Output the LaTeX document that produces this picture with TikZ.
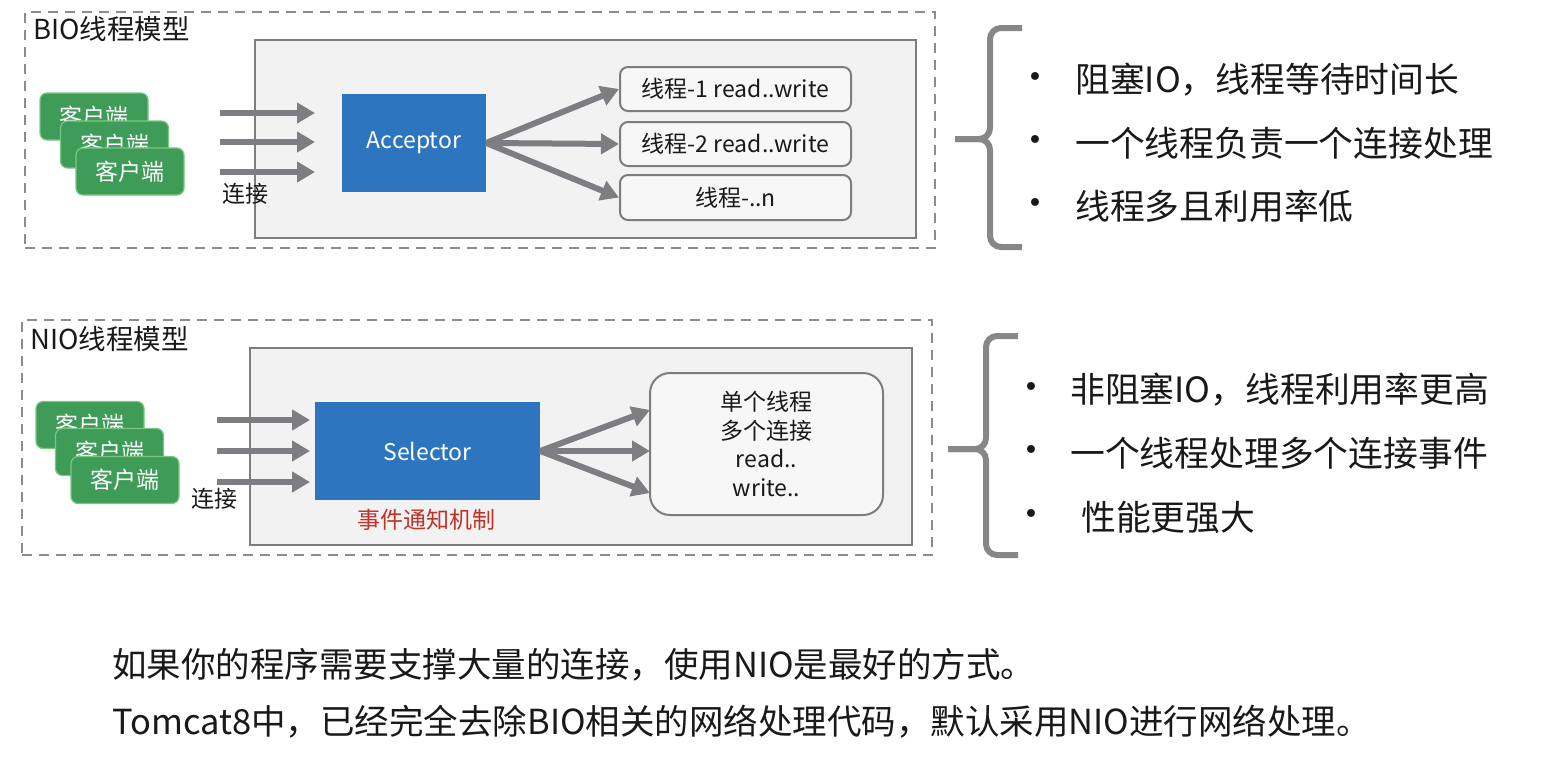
\documentclass[tikz,border=0pt]{standalone}
\usepackage{fontspec}
\setmainfont{Noto Sans CJK SC}
\newfontfamily\dotfont{DejaVu Sans}
\usetikzlibrary{arrows.meta}
\definecolor{dashgray}{RGB}{140,140,140}
\definecolor{boxgray}{RGB}{125,125,125}
\definecolor{innerfill}{RGB}{242,242,242}
\definecolor{cgreen}{RGB}{62,155,88}
\definecolor{cgreenlight}{RGB}{120,200,130}
\definecolor{cblue}{RGB}{46,117,192}
\definecolor{arrgray}{RGB}{125,125,130}
\definecolor{bracegray}{RGB}{135,135,135}
\definecolor{textblack}{RGB}{25,25,25}
\definecolor{evred}{RGB}{190,50,40}
\newcommand\fsA{\fontsize{23pt}{28.5pt}\selectfont}
\newcommand\fsT{\fontsize{27.5pt}{32pt}\selectfont}
\newcommand\fsC{\fontsize{34.8pt}{40pt}\selectfont}
\newcommand\fsB{\dotfont\fontsize{27pt}{30pt}\selectfont}
\newcommand\fsD{\fontsize{34.5pt}{40pt}\selectfont}
\begin{document}
\begin{tikzpicture}[x=1pt,y=-1pt,
  dashbox/.style={draw=dashgray, line width=2pt, dash pattern=on 10pt off 7pt, inner sep=0pt},
  innerbox/.style={draw=boxgray, fill=innerfill, line width=2pt, inner sep=0pt},
  client/.style={fill=cgreen, draw=cgreenlight, line width=1.2pt, rounded corners=7pt, minimum width=108pt, minimum height=47pt, text=white, font=\fsA, inner sep=0pt},
  bluebox/.style={fill=cblue, text=white, font=\fsA, inner sep=0pt},
  threadbox/.style={draw=boxgray, fill=white!97!black, line width=2pt, rounded corners=8pt, minimum width=231pt, minimum height=44pt, font=\fsA, text=textblack, inner sep=0pt},
  fatarrow/.style={draw=arrgray, line width=6pt, -{Triangle[length=18pt,width=20pt]}},
  bracepath/.style={draw=bracegray, line width=6pt, rounded corners=11pt},
  titletext/.style={anchor=west, font=\fsT, text=textblack, inner sep=0pt},
  labeltext/.style={font=\fsA, text=textblack, inner sep=0pt},
  bullettext/.style={anchor=west, font=\fsC, text=textblack, inner sep=0pt},
  bottomtext/.style={anchor=west, font=\fsD, text=textblack, inner sep=0pt},
  dotnode/.style={font=\fsB, text=textblack, inner sep=0pt},
]
\useasboundingbox (0,0) rectangle (1546,772);
\fill[white] (0,0) rectangle (1546,772);

% ---------------- BIO ----------------
\node[dashbox, minimum width=910pt, minimum height=236pt] (bio) at (480,130) {};
\node[titletext] (biot) at (33,29) {BIO线程模型};
\node[innerbox, minimum width=661pt, minimum height=198pt] (bioin) at (585.5,139) {};

\node[client] (bc1) at (94,116.5) {客户端};
\node[client] (bc2) at (114.5,144.5) {客户端};
\node[client] (bc3) at (130,171.5) {客户端};

\coordinate (ba1s) at (220,113); \coordinate (ba1e) at (315,113);
\coordinate (ba2s) at (220,142); \coordinate (ba2e) at (315,142);
\coordinate (ba3s) at (220,172); \coordinate (ba3e) at (315,172);
\draw[fatarrow] (ba1s) -- (ba1e);
\draw[fatarrow] (ba2s) -- (ba2e);
\draw[fatarrow] (ba3s) -- (ba3e);
\node[labeltext] (bconn) at (245,194) {连接};

\node[bluebox, minimum width=144pt, minimum height=98pt] (acc) at (414,143) {Acceptor};

\node[threadbox] (t1) at (735.5,89) {线程-1 read..write};
\node[threadbox] (t2) at (735.5,144) {线程-2 read..write};
\node[threadbox, minimum height=45pt] (t3) at (735.5,197.5) {线程-..n};

\draw[fatarrow] (acc.east) -- (t1.west);
\draw[fatarrow] (acc.east) -- (t2.west);
\draw[fatarrow] (acc.east) -- (t3.west);

% ---------------- NIO ----------------
\node[dashbox, minimum width=910pt, minimum height=235pt] (nio) at (477,437.5) {};
\node[titletext] (niot) at (30,339) {NIO线程模型};
\node[innerbox, minimum width=662pt, minimum height=197pt] (nioin) at (581,446.5) {};

\node[client] (nc1) at (90,425) {客户端};
\node[client] (nc2) at (109.5,452) {客户端};
\node[client] (nc3) at (125,480) {客户端};

\coordinate (na1s) at (217,420); \coordinate (na1e) at (310,420);
\coordinate (na2s) at (217,451); \coordinate (na2e) at (310,451);
\coordinate (na3s) at (217,482); \coordinate (na3e) at (310,482);
\draw[fatarrow] (na1s) -- (na1e);
\draw[fatarrow] (na2s) -- (na2e);
\draw[fatarrow] (na3s) -- (na3e);
\node[labeltext] (nconn) at (214,499) {连接};

\node[bluebox, minimum width=225pt, minimum height=98pt] (sel) at (427.5,451) {Selector};
\node[labeltext, text=evred, font=\fontsize{23pt}{27pt}\selectfont] (ev) at (426,520) {事件通知机制};

\node[draw=boxgray, fill=white!97!black, line width=2pt, rounded corners=20pt, minimum width=233pt, minimum height=142pt, inner sep=0pt, font=\fsA, text=textblack, align=center] (rb) at (766.5,444) {单个线程\\多个连接\\read..\\write..};

\coordinate (rb1) at (650,410);
\coordinate (rb2) at (650,451);
\coordinate (rb3) at (650,493);
\draw[fatarrow] (sel.east) -- (rb1);
\draw[fatarrow] (sel.east) -- (rb2);
\draw[fatarrow] (sel.east) -- (rb3);

% ---------------- braces ----------------
\coordinate (bbt) at (1022,28);
\coordinate (bbm) at (955,139);
\coordinate (bbb) at (1022,247);
\draw[bracepath] (bbt) -- (990,28) -- (990,139) -- (bbm);
\draw[bracepath] (bbm) -- (990,139) -- (990,247) -- (bbb);

\coordinate (nbt) at (1018,336);
\coordinate (nbm) at (948,449);
\coordinate (nbb) at (1018,555);
\draw[bracepath] (nbt) -- (986,336) -- (986,449) -- (nbm);
\draw[bracepath] (nbm) -- (986,449) -- (986,555) -- (nbb);

% ---------------- bullet lists ----------------
\node[dotnode] (d1) at (1035,80) {•};
\node[bullettext] (l1) at (1075,80) {阻塞IO，线程等待时间长};
\node[dotnode] (d2) at (1035,143) {•};
\node[bullettext] (l2) at (1075,143) {一个线程负责一个连接处理};
\node[dotnode] (d3) at (1035,206) {•};
\node[bullettext] (l3) at (1075,206) {线程多且利用率低};

\node[dotnode] (d4) at (1031,390) {•};
\node[bullettext] (l4) at (1070,390) {非阻塞IO，线程利用率更高};
\node[dotnode] (d5) at (1031,453) {•};
\node[bullettext] (l5) at (1070,453) {一个线程处理多个连接事件};
\node[dotnode] (d6) at (1031,517) {•};
\node[bullettext] (l6) at (1081,517) {性能更强大};

% ---------------- bottom text ----------------
\node[bottomtext] (bt1) at (112,665) {如果你的程序需要支撑大量的连接，使用NIO是最好的方式。};
\node[bottomtext] (bt2) at (112,722) {Tomcat8中，已经完全去除BIO相关的网络处理代码，默认采用NIO进行网络处理。};
\end{tikzpicture}
\end{document}
